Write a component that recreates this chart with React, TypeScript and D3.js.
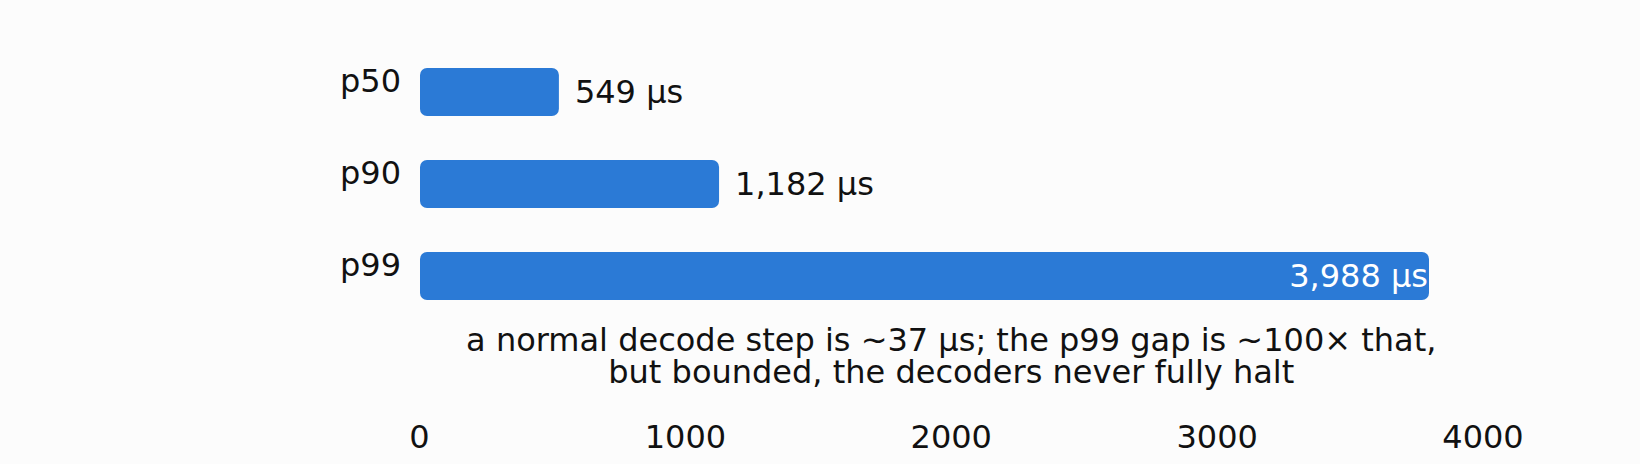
import * as d3 from "d3";

const categories = ["p50", "p90", "p99"];
const values = [549, 1182, 3988];
const valueLabels = ["549 µs", "1,182 µs", "3,988 µs"];
const axisTicks = [0, 1000, 2000, 3000, 4000];
const captionLines = [
  "a normal decode step is ~37 µs; the p99 gap is ~100× that,",
  "but bounded, the decoders never fully halt",
];

const W = 1640;
const H = 464;
const font = "'DejaVu Sans', sans-serif";
const fs = 32;

export default function App() {
  // bars are scaled to the largest value, the axis labels to a rounded 0-4000
  const xBar = d3.scaleLinear().domain([0, d3.max(values)!]).range([420, 1429]);
  const xAxis = d3.scaleLinear().domain([0, 4000]).range([419.5, 1483]);
  const y = d3.scaleBand().domain(categories).range([45, 323]).paddingInner(0.478).paddingOuter(0.25);

  return (
    <svg width={W} height={H} style={{position: "absolute", left: 0, top: 0, background: "#fcfcfc"}}
         fontFamily={font} fontSize={fs}>
      <rect width={W} height={H} fill="#fcfcfc" />
      {categories.map((c, i) => {
        const y0 = y(c)!;
        const bh = y.bandwidth();
        const xe = xBar(values[i]);
        const inside = xe - xBar(0) > 800;
        return (
          <g key={c}>
            <rect x={xBar(0)} y={y0} width={xe - xBar(0)} height={bh} rx={7} fill="#2b7ad6" />
            <text x={401} y={y0 + bh / 2} textAnchor="end" fill="#111">{c}</text>
            <text x={inside ? xe - 1 : xe + 16} y={y0 + bh / 2} dy="0.35em"
                  textAnchor={inside ? "end" : "start"} fill={inside ? "#fff" : "#111"}>
              {valueLabels[i]}
            </text>
          </g>
        );
      })}
      {captionLines.map((t, i) => (
        <text key={i} x={(xAxis.range()[0] + xAxis.range()[1]) / 2} y={351 + i * 32}
              textAnchor="middle" fill="#111">{t}</text>
      ))}
      {axisTicks.map((t) => (
        <text key={t} x={xAxis(t)} y={448} textAnchor="middle" fill="#111">{t}</text>
      ))}
    </svg>
  );
}
